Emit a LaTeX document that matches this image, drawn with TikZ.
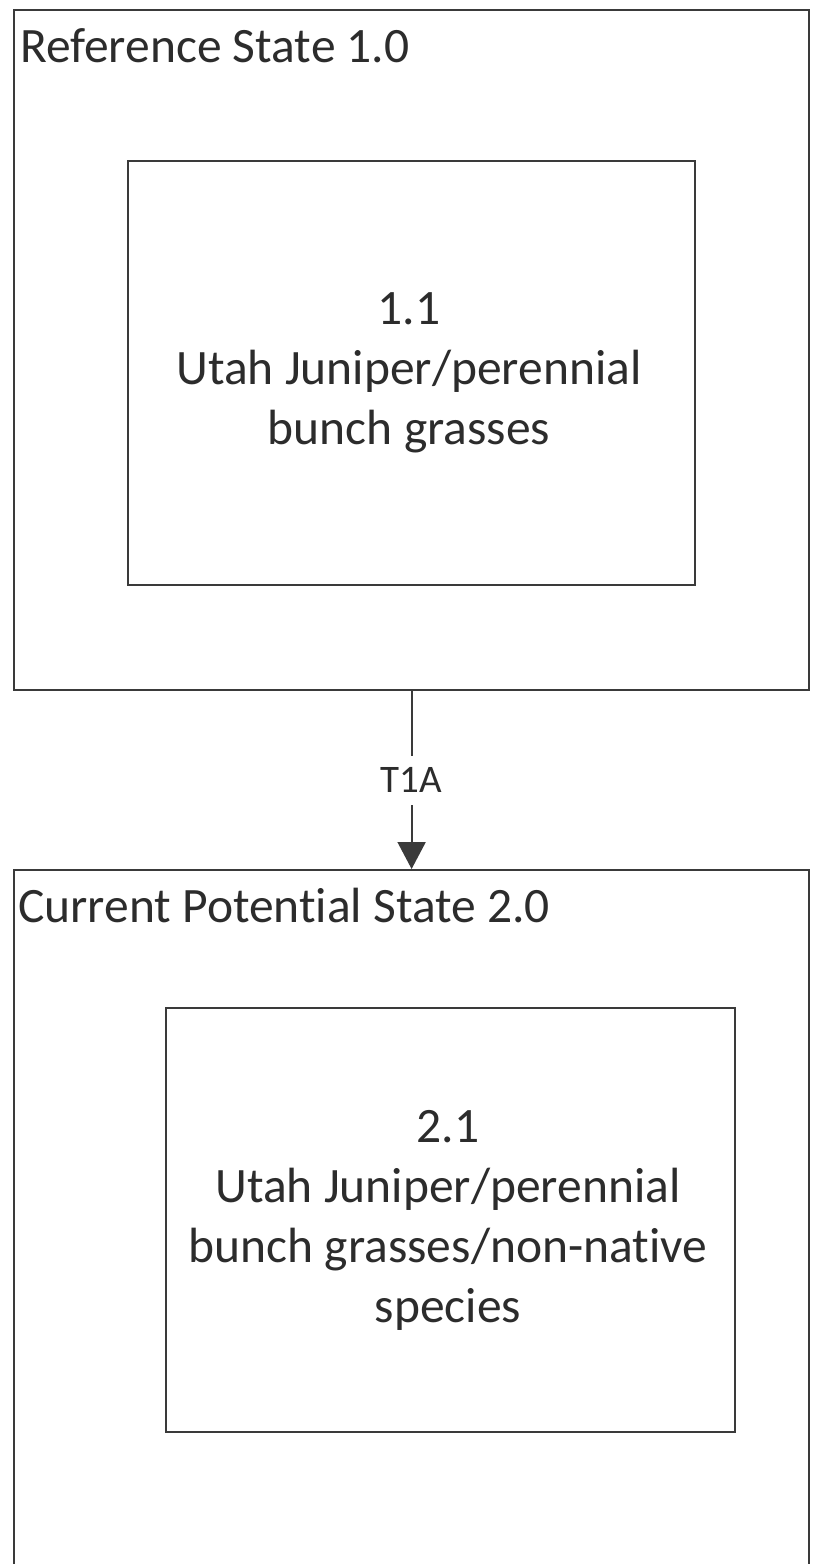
\documentclass[tikz,border=0pt]{standalone}
\usepackage{fontspec}
\setmainfont{Carlito}[RawFeature={-liga}]
\usetikzlibrary{arrows.meta}
\definecolor{ln}{HTML}{3A3A3A}
\definecolor{tx}{HTML}{2C2C2C}
\begin{document}
\begin{tikzpicture}[x=1pt,y=-1pt,
  statebox/.style={draw=ln, line width=2.2pt, rectangle, inner sep=0pt, anchor=north west},
  titletext/.style={text=tx, font=\fontsize{49.5}{60}\selectfont, inner sep=0pt, anchor=base west},
  phasetext/.style={text=tx, font=\fontsize{49.5}{60}\selectfont, inner sep=0pt, align=center, anchor=base},
  trans/.style={draw=ln, line width=2pt, -{Triangle[width=28pt,length=27pt]}},
  translabel/.style={text=tx, font=\fontsize{39}{47}\selectfont, fill=white, inner xsep=3pt, inner ysep=12pt}]
\fill[white] (0,0) rectangle (816,1564);
\clip (0,0) rectangle (816,1564);
% Reference state
\node[statebox, minimum width=795pt, minimum height=680pt] (ref) at (13,9) {};
\node[titletext] (reftitle) at (20,62) {Reference State 1.0};
\node[statebox, minimum width=567pt, minimum height=424pt] (p11) at (127,160) {};
\node[phasetext] (p11text) at (409,444) {1.1\\Utah Juniper/perennial\\bunch grasses};
% Current potential state
\node[statebox, minimum width=795pt, minimum height=800pt] (cur) at (13,869) {};
\node[titletext] (curtitle) at (18,922) {Current Potential State 2.0};
\node[statebox, minimum width=569pt, minimum height=424pt] (p21) at (165,1007) {};
\node[phasetext] (p21text) at (448,1322) {2.1\\Utah Juniper/perennial\\bunch grasses/non-native\\species};
% Transition
\draw[trans] (ref.south) -- node[translabel, midway] (t1a) {T1A} (cur.north);
\end{tikzpicture}
\end{document}
